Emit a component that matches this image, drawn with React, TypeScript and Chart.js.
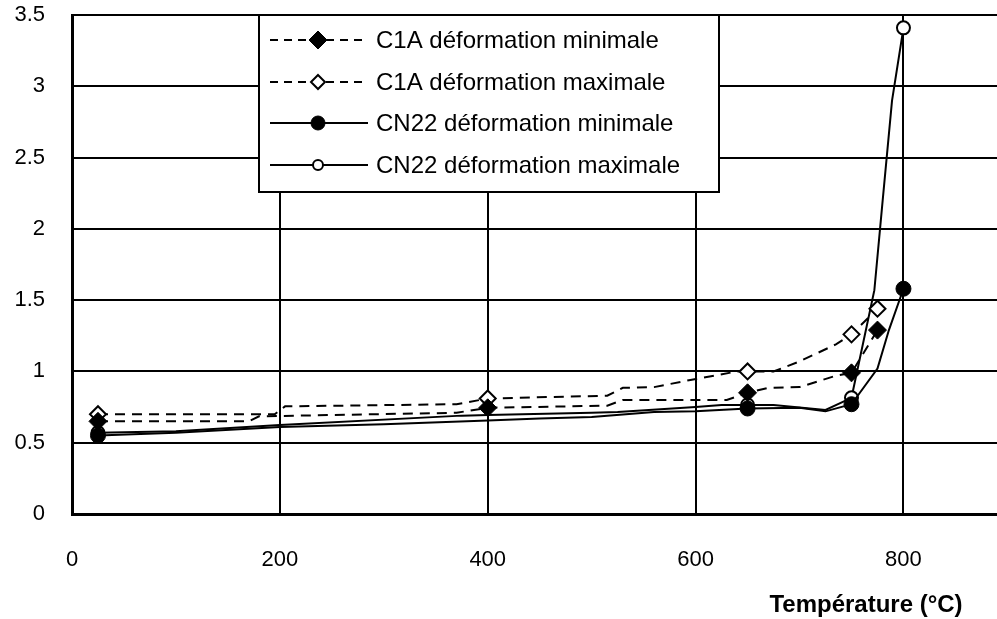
import React, { useEffect, useRef } from "react";
import { Chart, registerables } from "chart.js";

Chart.register(...registerables);

// ---- data ----
const c1aMinT = [25, 170, 180, 370, 400, 515, 530, 630, 650, 670, 700, 735, 750, 775];
const c1aMinV = [0.65, 0.65, 0.685, 0.71, 0.745, 0.76, 0.8, 0.8, 0.85, 0.885, 0.89, 0.97, 0.99, 1.29];

const c1aMaxT = [25, 195, 205, 370, 400, 515, 530, 560, 595, 640, 650, 675, 700, 735, 750, 775];
const c1aMaxV = [0.7, 0.7, 0.755, 0.77, 0.81, 0.83, 0.885, 0.89, 0.94, 1.0, 1.0, 1.0, 1.07, 1.19, 1.26, 1.44];

const cn22MinT = [25, 100, 200, 300, 400, 450, 500, 560, 600, 650, 700, 725, 750, 775, 786, 800];
const cn22MinV = [0.55, 0.57, 0.61, 0.63, 0.655, 0.67, 0.68, 0.715, 0.72, 0.74, 0.745, 0.72, 0.77, 1.02, 1.29, 1.58];

const cn22MaxT = [25, 100, 200, 375, 400, 500, 525, 600, 625, 650, 675, 725, 750, 772, 780, 789, 800];
const cn22MaxV = [0.57, 0.58, 0.625, 0.69, 0.695, 0.71, 0.715, 0.75, 0.765, 0.765, 0.765, 0.73, 0.815, 1.57, 2.2, 2.9, 3.41];

// temperatures where a marker is shown
const c1aMarkerT = [25, 400, 650, 750, 775];
const cn22MarkerT = [25, 650, 750, 800];

const seriesLabels = [
  "C1A déformation minimale",
  "C1A déformation maximale",
  "CN22 déformation minimale",
  "CN22 déformation maximale",
];
const xTitle = "Température (°C)";

const FONT = 'Arial, "Liberation Sans", Helvetica, sans-serif';

function pts(t: number[], v: number[]) {
  return t.map((x, i) => ({ x, y: v[i] }));
}

function drawMarker(ctx: CanvasRenderingContext2D, style: string, x: number, y: number, r: number) {
  ctx.beginPath();
  if (style === "circle") {
    ctx.arc(x, y, r, 0, Math.PI * 2);
  } else {
    ctx.moveTo(x, y - r);
    ctx.lineTo(x + r, y);
    ctx.lineTo(x, y + r);
    ctx.lineTo(x - r, y);
    ctx.closePath();
  }
  ctx.fill();
  ctx.stroke();
}

export default function App() {
  const ref = useRef<HTMLCanvasElement | null>(null);

  useEffect(() => {
    if (!ref.current) return;
    const dash = [10, 7];
    const radiusFor = (t: number[], marks: number[], r: number) =>
      t.map((x) => (marks.includes(x) ? r : 0));

    const datasets: any[] = [
      {
        label: seriesLabels[0],
        data: pts(c1aMinT, c1aMinV),
        borderColor: "#000",
        borderWidth: 2,
        borderDash: dash,
        pointStyle: "rectRot",
        pointRadius: radiusFor(c1aMinT, c1aMarkerT, 9),
        pointBackgroundColor: "#000",
        pointBorderColor: "#000",
        pointBorderWidth: 1,
        _legend: { dashed: true, style: "rectRot", fill: "#000", r: 9, bw: 1 },
      },
      {
        label: seriesLabels[1],
        data: pts(c1aMaxT, c1aMaxV),
        borderColor: "#000",
        borderWidth: 2,
        borderDash: dash,
        pointStyle: "rectRot",
        pointRadius: radiusFor(c1aMaxT, c1aMarkerT, 8),
        pointBackgroundColor: "#fff",
        pointBorderColor: "#000",
        pointBorderWidth: 2,
        _legend: { dashed: true, style: "rectRot", fill: "#fff", r: 7, bw: 2 },
      },
      {
        label: seriesLabels[2],
        data: pts(cn22MinT, cn22MinV),
        borderColor: "#000",
        borderWidth: 2,
        pointStyle: "circle",
        pointRadius: radiusFor(cn22MinT, cn22MarkerT, 7.5),
        pointBackgroundColor: "#000",
        pointBorderColor: "#000",
        pointBorderWidth: 1,
        _legend: { dashed: false, style: "circle", fill: "#000", r: 7, bw: 1 },
      },
      {
        label: seriesLabels[3],
        data: pts(cn22MaxT, cn22MaxV),
        borderColor: "#000",
        borderWidth: 2,
        pointStyle: "circle",
        pointRadius: radiusFor(cn22MaxT, cn22MarkerT, 6.5),
        pointBackgroundColor: "#fff",
        pointBorderColor: "#000",
        pointBorderWidth: 2,
        _legend: { dashed: false, style: "circle", fill: "#fff", r: 5, bw: 2 },
      },
    ];

    const legendPlugin = {
      id: "boxLegend",
      afterDraw(chart: any) {
        const ctx = chart.ctx as CanvasRenderingContext2D;
        const ca = chart.chartArea;
        const x0 = 259, y0 = ca.top, x1 = 719, y1 = 192;
        ctx.save();
        ctx.fillStyle = "#fff";
        ctx.fillRect(x0, y0, x1 - x0, y1 - y0);
        ctx.strokeStyle = "#000";
        ctx.lineWidth = 2;
        ctx.strokeRect(x0, y0, x1 - x0, y1 - y0);
        const rows = [40, 82, 123, 165];
        datasets.forEach((ds, i) => {
          const y = rows[i];
          const lg = ds._legend;
          ctx.beginPath();
          ctx.setLineDash(lg.dashed ? [8, 6] : []);
          ctx.lineWidth = 2;
          ctx.strokeStyle = "#000";
          ctx.moveTo(270, y);
          ctx.lineTo(368, y);
          ctx.stroke();
          ctx.setLineDash([]);
          ctx.fillStyle = lg.fill;
          ctx.strokeStyle = "#000";
          ctx.lineWidth = lg.bw;
          drawMarker(ctx, lg.style, 318, y, lg.r);
          ctx.fillStyle = "#000";
          ctx.font = `24px ${FONT}`;
          ctx.textAlign = "left";
          ctx.textBaseline = "middle";
          ctx.fillText(ds.label, 376, y + 1);
        });
        // axis title
        ctx.font = `bold 24px ${FONT}`;
        ctx.textAlign = "center";
        ctx.textBaseline = "middle";
        ctx.fillStyle = "#000";
        ctx.fillText(xTitle, 866, 605);
        ctx.restore();
      },
    };

    const chart = new Chart(ref.current, {
      type: "line",
      data: { datasets },
      plugins: [legendPlugin],
      options: {
        animation: false,
        responsive: false,
        devicePixelRatio: 1,
        layout: { autoPadding: false, padding: { top: 15, right: 0, left: 0, bottom: 0 } },
        plugins: {
          legend: { display: false },
          tooltip: { enabled: false },
          title: { display: false },
        },
        elements: { line: { tension: 0 } },
        scales: {
          x: {
            type: "linear",
            min: 0,
            max: 890,
            ticks: {
              stepSize: 200,
              includeBounds: false,
              color: "#000",
              font: { size: 22, family: FONT },
              padding: 33,
              maxRotation: 0,
            },
            grid: { color: "#000", lineWidth: 2, drawTicks: false },
            border: { color: "#000", width: 3 },
            afterFit: (s: any) => {
              s.height = 105;
              s.paddingLeft = 0;
              s.paddingRight = 0;
            },
          },
          y: {
            min: 0,
            max: 3.5,
            ticks: {
              stepSize: 0.5,
              color: "#000",
              font: { size: 22, family: FONT },
              padding: 27,
              callback: (v: any) => String(Number(v)),
            },
            grid: { color: "#000", lineWidth: 2, drawTicks: false },
            border: { color: "#000", width: 3 },
            afterFit: (s: any) => {
              s.width = 72;
              s.paddingTop = 0;
              s.paddingBottom = 0;
            },
          },
        },
      } as any,
    });
    return () => chart.destroy();
  }, []);

  return (
    <div style={{ position: "fixed", left: 0, top: 0, width: 997, height: 619, background: "#fff" }}>
      <canvas ref={ref} width={997} height={619} style={{ width: 997, height: 619, display: "block" }} />
    </div>
  );
}
